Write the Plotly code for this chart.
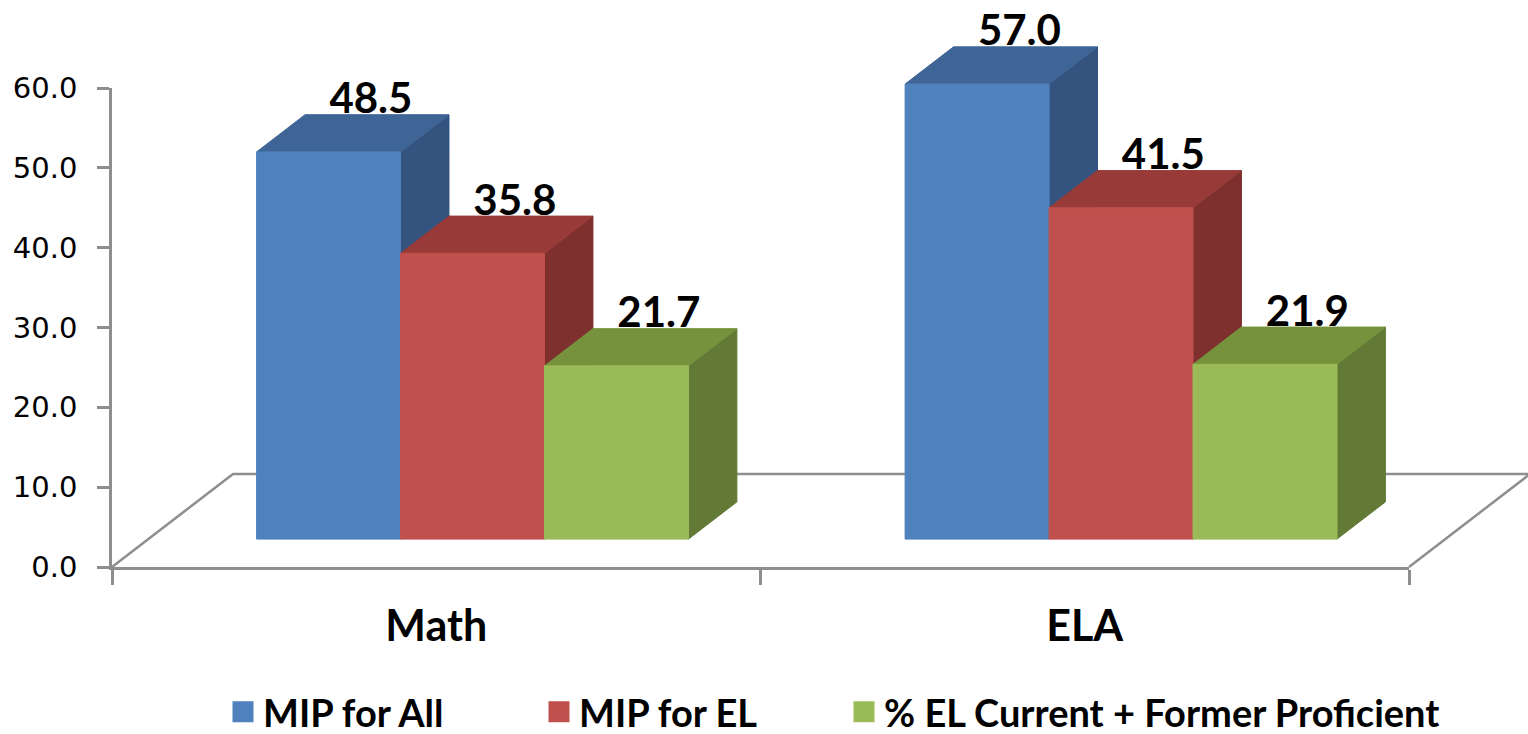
import plotly.graph_objects as go

# ---- data ----
categories = ["Math", "ELA"]
series_names = ["MIP for All", "MIP for EL", "% EL Current + Former Proficient"]
mip_all = [48.5, 57.0]
mip_el = [35.8, 41.5]
el_proficient = [21.7, 21.9]
y_ticks = [0, 10, 20, 30, 40, 50, 60]

series_values = [mip_all, mip_el, el_proficient]

# front / top / side shades for each series
front_colors = ["#4F81BD", "#C0504D", "#9BBB59"]
top_colors = ["#3E6596", "#973A38", "#76923C"]
side_colors = ["#34547F", "#7D302E", "#637A37"]

# ---- page & frame geometry (pixels) ----
W, H = 1528, 734
AX_LEFT, AX_RIGHT = 112, 1409
AX_BOTTOM, AX_TOP = 567, 88
Y_MAX = 60

ppu_x = (AX_RIGHT - AX_LEFT) / len(categories)
ppu_y = (AX_BOTTOM - AX_TOP) / Y_MAX

# oblique depth vector of the floor, expressed in data units
DEPTH_X = 121 / ppu_x
DEPTH_Y = 93 / ppu_y
BAR_FRONT, BAR_BACK = 0.30, 0.70
BAR_W = 0.222
LABEL_DEPTH = 0.65
LABEL_LIFT = 12 / ppu_y   # gap between the bar's back top edge and its label centre

GRID = "#8E8E8E"
FONT_BOLD = "Lato"


def proj(u, v, d):
    """Oblique projection of (category pos, value, depth) onto the drawing plane."""
    return u + d * DEPTH_X, v + d * DEPTH_Y


def poly(points):
    xs, ys = zip(*[proj(*p) for p in points])
    return list(xs) + [xs[0]], list(ys) + [ys[0]]


fig = go.Figure()

# floor outline (front edge is the category axis line)
n = len(categories)
floor_pts = [(-0.5, 0, 0), (-0.5, 0, 1), (n - 0.5, 0, 1), (n - 0.5, 0, 0)]
fx, fy = zip(*[proj(*p) for p in floor_pts])
fig.add_trace(go.Scatter(x=fx, y=fy, mode="lines",
                         line=dict(color=GRID, width=2.5),
                         hoverinfo="skip", showlegend=False))

# 3-D bars, painted left to right so nearer faces cover the side faces
nser = len(series_values)
for i in range(n):
    for k in range(nser):
        v = series_values[k][i]
        u0 = i - nser * BAR_W / 2 + k * BAR_W
        u1 = u0 + BAR_W
        f, b = BAR_FRONT, BAR_BACK
        faces = [
            ([(u1, 0, f), (u1, 0, b), (u1, v, b), (u1, v, f)], side_colors[k]),
            ([(u0, v, f), (u1, v, f), (u1, v, b), (u0, v, b)], top_colors[k]),
            ([(u0, 0, f), (u1, 0, f), (u1, v, f), (u0, v, f)], front_colors[k]),
        ]
        for pts, col in faces:
            px, py = poly(pts)
            fig.add_trace(go.Scatter(x=px, y=py, mode="lines", fill="toself",
                                     fillcolor=col, line=dict(color=col, width=1),
                                     hoverinfo="skip", showlegend=False))

# value labels above each bar
for k in range(nser):
    lx, ly, lt = [], [], []
    for i in range(n):
        v = series_values[k][i]
        uc = i - nser * BAR_W / 2 + (k + 0.5) * BAR_W
        x, _ = proj(uc, v, LABEL_DEPTH)
        _, y = proj(uc, v, BAR_BACK)
        lx.append(x)
        ly.append(y + LABEL_LIFT)
        lt.append(f"{v:.1f}")
    fig.add_trace(go.Scatter(x=lx, y=ly, mode="text", text=lt,
                             textposition="middle center", cliponaxis=False,
                             textfont=dict(family=FONT_BOLD, size=42, weight="bold", color="black"),
                             hoverinfo="skip", showlegend=False))

# legend entries, each in its own legend box
legend_names = ["legend", "legend2", "legend3"]
for k in range(nser):
    fig.add_trace(go.Scatter(x=[None], y=[None], mode="markers", name=series_names[k],
                             marker=dict(symbol="square", size=16, color=front_colors[k],
                                         line=dict(color=front_colors[k], width=5)),
                             legend=legend_names[k], xaxis="x2", yaxis="y2"))

x_lo = -0.5 - AX_LEFT / ppu_x
x_hi = -0.5 + (W - AX_LEFT) / ppu_x
y_lo = -(H - AX_BOTTOM) / ppu_y
y_hi = Y_MAX + AX_TOP / ppu_y

legend_common = dict(orientation="h", yanchor="middle", xanchor="left", y=1 - 712 / H,
                     font=dict(family=FONT_BOLD, size=38, weight="bold", color="black"),
                     bgcolor="rgba(0,0,0,0)", itemsizing="trace")
legend_left_px = [223, 539, 844]

fig.update_layout(
    width=W, height=H,
    margin=dict(l=0, r=0, t=0, b=0, autoexpand=False),
    paper_bgcolor="white", plot_bgcolor="rgba(0,0,0,0)",
    xaxis=dict(domain=[0, 1], range=[x_lo, x_hi], visible=False, fixedrange=True),
    yaxis=dict(domain=[0, 1], range=[y_lo, y_hi], visible=False, fixedrange=True),
    xaxis2=dict(domain=[AX_LEFT / W, AX_RIGHT / W], anchor="y2", type="category",
                categoryorder="array", categoryarray=categories,
                tickvals=categories, range=[-0.5, n - 0.5],
                showline=True, linecolor=GRID, linewidth=2.5,
                ticks="outside", ticklen=15, tickwidth=2.5, tickcolor=GRID,
                tickson="boundaries", showgrid=False, zeroline=False,
                ticklabelstandoff=20, automargin=False,
                tickfont=dict(family=FONT_BOLD, size=43, weight="bold", color="black")),
    yaxis2=dict(domain=[(H - AX_BOTTOM) / H, (H - AX_TOP) / H], anchor="x2",
                range=[0, Y_MAX], tickvals=y_ticks, tickformat=".1f",
                showline=True, linecolor=GRID, linewidth=2.5,
                ticks="outside", ticklen=12, tickwidth=2.5, tickcolor=GRID,
                showgrid=False, zeroline=False, ticklabelstandoff=14, automargin=False,
                tickfont=dict(family="DejaVu Sans", size=29, color="black")),
    legend=dict(x=legend_left_px[0] / W, **legend_common),
    legend2=dict(x=legend_left_px[1] / W, **legend_common),
    legend3=dict(x=legend_left_px[2] / W, **legend_common),
)

fig.write_html("out.html")
